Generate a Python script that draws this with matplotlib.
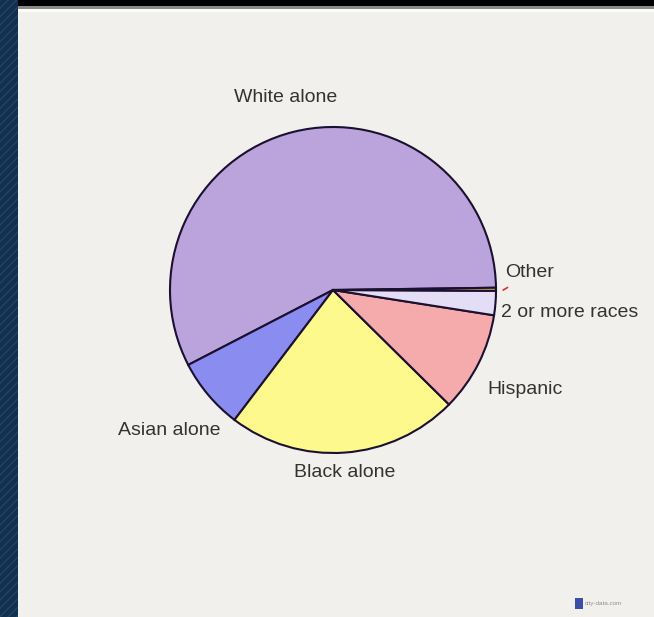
import matplotlib.pyplot as plt
from matplotlib.patches import Rectangle

W, H = 654, 617

labels = ['White alone', 'Asian alone', 'Black alone', 'Hispanic', '2 or more races', 'Other']
shares = [57.3, 7.06, 22.9, 9.9, 2.4, 0.3]
colors = ['#bba4dc', '#8b8cf0', '#fdf98c', '#f5aaab', '#e4ddf6', '#d8c060']

# label anchors in pie units (radius = 1)
label_pos = [(-0.29, 1.18), (-0.69, -0.86), (0.07, -1.12), (0.95, -0.61), (1.03, -0.14), (1.055, 0.11)]
label_ha = ['center', 'right', 'center', 'left', 'left', 'left']

plt.rcParams['font.family'] = ['Liberation Sans', 'DejaVu Sans']

fig = plt.figure(figsize=(W / 100, H / 100), dpi=100)
fig.patch.set_facecolor('#f2f0ed')

# frame decorations: dark strip on the left, black bar on top
fig.add_artist(Rectangle((0, 0), 18 / W, 1, transform=fig.transFigure,
                         facecolor='#12304e', edgecolor='#1d4468', hatch='////', lw=0))
fig.add_artist(Rectangle((18 / W, 1 - 6 / H), 1, 6 / H, transform=fig.transFigure,
                         facecolor='black', lw=0))
fig.add_artist(Rectangle((18 / W, 1 - 9 / H), 1, 3 / H, transform=fig.transFigure,
                         facecolor='#8a8a8a', lw=0))
fig.add_artist(Rectangle((18 / W, 1 - 12 / H), 1, 3 / H, transform=fig.transFigure,
                         facecolor='#fbfbfb', lw=0))

cx, cy, r = 333, 290, 163
ax = fig.add_axes([(cx - r) / W, (H - cy - r) / H, 2 * r / W, 2 * r / H])
ax.pie(shares, colors=colors, startangle=0.8, counterclock=True,
       wedgeprops=dict(edgecolor='#1a1030', linewidth=1.5))
ax.set_xlim(-1, 1)
ax.set_ylim(-1, 1)
ax.axis('off')

for lab, (x, y), ha in zip(labels, label_pos, label_ha):
    ax.text(x, y, lab, ha=ha, va='center', fontsize=14, color='#333333', clip_on=False)

# small red tick next to the tiny slice
ax.plot([1.045, 1.07], [0.0, 0.015], color='#e03030', lw=1.2, clip_on=False)

# watermark
fig.add_artist(Rectangle((575 / W, 8 / H), 8 / W, 11 / H, transform=fig.transFigure,
                         facecolor='#3b4fa8', lw=0))
fig.text(585 / W, 13 / H, 'city-data.com', fontsize=4.5, color='#909090', va='center')

fig.savefig('out.png', dpi=100, facecolor=fig.get_facecolor())
